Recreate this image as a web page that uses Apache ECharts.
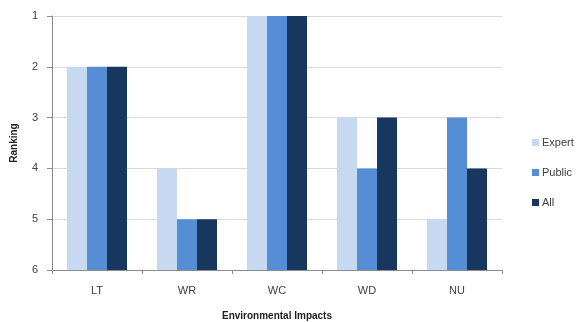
<!DOCTYPE html>
<html>
<head>
<meta charset="utf-8">
<script src="https://cdn.jsdelivr.net/npm/echarts@6/dist/echarts.min.js"></script>
<style>
  html, body { margin: 0; padding: 0; background: #fff; }
  #chart { width: 583px; height: 322px; }
</style>
</head>
<body>
<div id="chart"></div>
<script>
// Rankings per environmental impact (1 = most important, 6 = axis floor)
const categories = ['LT', 'WR', 'WC', 'WD', 'NU'];
const expertRank = [2, 4, 1, 3, 5];
const publicRank = [2, 5, 1, 4, 3];
const allRank = [2, 5, 1, 3, 4];
const rankTicks = [1, 2, 3, 4, 5, 6];

// Bars grow up from the floor rank (6), so the drawn height is floor - rank
const FLOOR = 6;
const toHeight = arr => arr.map(r => FLOOR - r);

const textColor = '#404040';
const font = 'Liberation Sans';

const chart = echarts.init(document.getElementById('chart'), null, { renderer: 'canvas' });

chart.setOption({
  animation: false,
  backgroundColor: '#ffffff',
  textStyle: { fontFamily: font, color: textColor },
  grid: { left: 52, right: 81, top: 16, bottom: 52, outerBoundsMode: 'none', containLabel: false },
  legend: {
    orient: 'vertical',
    left: 527,
    top: 132,
    itemWidth: 7,
    itemHeight: 7,
    itemGap: 19,
    icon: 'rect',
    textStyle: { fontFamily: font, fontSize: 11, color: textColor, padding: [0, 0, 0, -2] },
    data: ['Expert', 'Public', 'All']
  },
  xAxis: {
    type: 'category',
    data: categories,
    name: 'Environmental Impacts',
    nameLocation: 'middle',
    nameGap: 41,
    nameTextStyle: { fontFamily: font, fontSize: 10, fontWeight: 'bold', color: '#222' },
    axisLine: { lineStyle: { color: '#8c8c8c', width: 1 } },
    axisTick: { show: true, alignWithLabel: false, length: 4, lineStyle: { color: '#8c8c8c' } },
    axisLabel: { fontFamily: font, fontSize: 11, color: textColor, margin: 15 }
  },
  yAxis: {
    type: 'value',
    min: 0,
    max: FLOOR - rankTicks[0],
    interval: 1,
    name: 'Ranking',
    nameLocation: 'middle',
    nameGap: 33,
    nameRotate: 90,
    nameTextStyle: { fontFamily: font, fontSize: 10, fontWeight: 'bold', color: '#222' },
    axisLine: { show: true, lineStyle: { color: '#8c8c8c', width: 1 } },
    axisTick: { show: true, length: 5, lineStyle: { color: '#8c8c8c' } },
    axisLabel: {
      fontFamily: font, fontSize: 11, color: textColor, margin: 14,
      formatter: v => String(FLOOR - v)
    },
    splitLine: { show: true, lineStyle: { color: '#d9d9d9', width: 1 } }
  },
  series: [
    {
      name: 'Expert', type: 'bar', data: toHeight(expertRank),
      itemStyle: { color: '#c6d9f1' }, barGap: '0%', barCategoryGap: '33.3%'
    },
    {
      name: 'Public', type: 'bar', data: toHeight(publicRank),
      itemStyle: { color: '#558ed5' }, barGap: '0%', barCategoryGap: '33.3%'
    },
    {
      name: 'All', type: 'bar', data: toHeight(allRank),
      itemStyle: { color: '#17375e' }, barGap: '0%', barCategoryGap: '33.3%'
    }
  ]
});
</script>
</body>
</html>
